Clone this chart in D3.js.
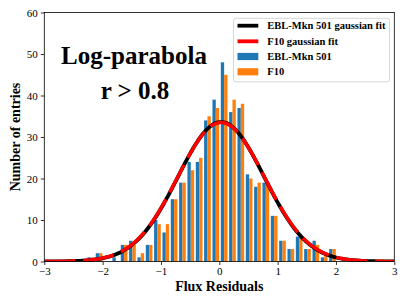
<!DOCTYPE html>
<html>
<head>
<meta charset="utf-8">
<script src="https://cdn.jsdelivr.net/npm/d3@7"></script>
<style>
  body { margin: 0; background: #fff; }
  text { font-family: "Liberation Serif", "Times New Roman", serif; }
</style>
</head>
<body>
<div id="chart"></div>
<script>
// histogram bins (30 bins, left edge of first bin and bin width)
var binStart = -2.275;
var binWidth = 0.1429;
// counts per bin
var eblCounts = [1,2,0,1,4,5,1,4,10,7,15,19,24,24,34,39,48,36,37,21,18,19,11,5,3,6,3,5,1,3];
var f10Counts = [1,2,0,0,4,4,2,4,9,9,15,19,22,25,35,37,45,39,38,20,19,19,11,5,3,6,3,4,2,3];
// gaussian fits: [amplitude, mean, sigma]
var eblFit = [33.6, 0.03, 0.74];
var f10Fit = [33.5, 0.03, 0.745];
var xTicks = [-3, -2, -1, 0, 1, 2, 3];
var yTicks = [0, 10, 20, 30, 40, 50, 60];
var legendLabels = ["EBL-Mkn 501 gaussian fit", "F10 gaussian fit", "EBL-Mkn 501", "F10"];

var blue = "#1f77b4";
var orange = "#ff7f0e";

var width = 407, height = 305;
var margin = {left: 44.3, right: 12.7, top: 12.5, bottom: 43.5};

var svg = d3.select("#chart").append("svg")
  .attr("width", width)
  .attr("height", height);

var x = d3.scaleLinear().domain([-3, 3]).range([margin.left, width - margin.right]);
var y = d3.scaleLinear().domain([0, 60]).range([height - margin.bottom, margin.top]);

// bars: matplotlib style side by side, 80% of the bin shared by two series
var bars = svg.append("g");
function drawBars(counts, color, offset) {
  bars.selectAll(null)
    .data(counts)
    .enter()
    .append("rect")
    .attr("x", function(d, i) { return x(binStart + i * binWidth + binWidth * (0.1 + offset)); })
    .attr("width", function() { return x(binWidth * 0.4) - x(0); })
    .attr("y", function(d) { return y(d); })
    .attr("height", function(d) { return y(0) - y(d); })
    .attr("fill", color);
}
drawBars(eblCounts, blue, 0);
drawBars(f10Counts, orange, 0.4);

// fit curves
function gauss(p) {
  return function(v) { return p[0] * Math.exp(-Math.pow(v - p[1], 2) / (2 * p[2] * p[2])); };
}
var xs = d3.range(0, 301).map(function(i) { return -3 + i * 0.02; });
var line = d3.line()
  .x(function(d) { return x(d[0]); })
  .y(function(d) { return y(d[1]); });

var clip = svg.append("clipPath").attr("id", "plotclip")
  .append("rect")
  .attr("x", margin.left).attr("y", margin.top)
  .attr("width", width - margin.left - margin.right)
  .attr("height", height - margin.top - margin.bottom);

var g1 = gauss(eblFit), g2 = gauss(f10Fit);
svg.append("path")
  .attr("clip-path", "url(#plotclip)")
  .attr("d", line(xs.map(function(v) { return [v, g1(v)]; })))
  .attr("fill", "none")
  .attr("stroke", "black")
  .attr("stroke-width", 3.8);
svg.append("path")
  .attr("clip-path", "url(#plotclip)")
  .attr("d", line(xs.map(function(v) { return [v, g2(v)]; })))
  .attr("fill", "none")
  .attr("stroke", "red")
  .attr("stroke-width", 3.5)
  .attr("stroke-dasharray", "31,8");

// axes
var xAxis = svg.append("g")
  .attr("transform", "translate(0," + y(0) + ")")
  .call(d3.axisBottom(x).tickValues(xTicks).tickSize(3.5).tickPadding(2)
    .tickFormat(function(d) { return d < 0 ? "\u2212" + Math.abs(d) : d; }));
var yAxis = svg.append("g")
  .attr("transform", "translate(" + x(-3) + ",0)")
  .call(d3.axisLeft(y).tickValues(yTicks).tickSize(3.5).tickPadding(3));
[xAxis, yAxis].forEach(function(a) {
  a.selectAll("text").attr("font-family", "Liberation Serif, serif").attr("font-size", "11px").attr("fill", "black");
  a.select(".domain").remove();
  a.selectAll("line").attr("stroke", "black").attr("stroke-width", 0.8);
});

// frame
svg.append("rect")
  .attr("x", margin.left).attr("y", margin.top)
  .attr("width", width - margin.left - margin.right)
  .attr("height", height - margin.top - margin.bottom)
  .attr("fill", "none")
  .attr("stroke", "black")
  .attr("stroke-width", 0.8);

// axis labels
svg.append("text")
  .attr("x", x(0)).attr("y", 291)
  .attr("text-anchor", "middle")
  .attr("font-weight", "bold")
  .attr("font-size", "14px")
  .text("Flux Residuals");
svg.append("text")
  .attr("transform", "translate(20," + ((margin.top + height - margin.bottom) / 2) + ") rotate(-90)")
  .attr("text-anchor", "middle")
  .attr("font-weight", "bold")
  .attr("font-size", "14px")
  .text("Number of entries");

// annotation
svg.append("text")
  .attr("x", 134).attr("y", 63.5)
  .attr("text-anchor", "middle")
  .attr("font-weight", "bold")
  .attr("font-size", "25px")
  .text("Log-parabola");
svg.append("text")
  .attr("x", 135).attr("y", 99)
  .attr("text-anchor", "middle")
  .attr("font-weight", "bold")
  .attr("font-size", "25px")
  .text("r > 0.8");

// legend
var legend = svg.append("g");
legend.append("rect")
  .attr("x", 233.5).attr("y", 18.3)
  .attr("width", 156).attr("height", 63.5)
  .attr("rx", 2.5)
  .attr("fill", "white").attr("fill-opacity", 0.8)
  .attr("stroke", "#cccccc").attr("stroke-width", 0.8);
var rowY = [25.7, 41.3, 56.5, 71.8];
var kinds = ["line", "line", "rect", "rect"];
var colors = ["black", "red", blue, orange];
legendLabels.forEach(function(label, i) {
  if (kinds[i] == "line") {
    legend.append("line")
      .attr("x1", 237.5).attr("x2", 258.3)
      .attr("y1", rowY[i]).attr("y2", rowY[i])
      .attr("stroke", colors[i]).attr("stroke-width", 3.8);
  } else {
    legend.append("rect")
      .attr("x", 237.5).attr("y", rowY[i] - 3.6)
      .attr("width", 20.8).attr("height", 7.2)
      .attr("fill", colors[i]);
  }
  legend.append("text")
    .attr("x", 267.3).attr("y", rowY[i] + 3.6)
    .attr("font-weight", "bold")
    .attr("font-size", "10.5px")
    .text(label);
});
</script>
</body>
</html>
